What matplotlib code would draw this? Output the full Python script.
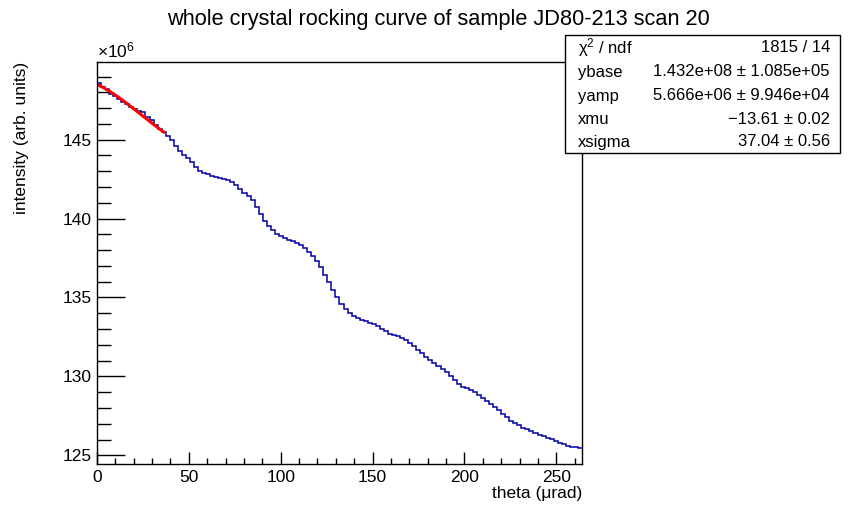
import numpy as np
import matplotlib.pyplot as plt
from matplotlib.patches import Rectangle

plt.rcParams['font.family'] = ['Liberation Sans', 'DejaVu Sans']
plt.rcParams['mathtext.fontset'] = 'custom'
plt.rcParams['mathtext.rm'] = 'Liberation Sans'
plt.rcParams['mathtext.it'] = 'Liberation Sans:italic'

# histogram: 120 bins from 0 to 264 urad, contents in units of 1e6
theta_lo, theta_hi, n_bins = 0.0, 264.0, 120
counts = [
    148.60, 148.35, 148.20, 147.90, 147.75, 147.55, 147.40, 147.25, 147.05, 146.95,
    146.80, 146.75, 146.45, 146.25, 145.95, 145.65, 145.50, 145.25, 144.95, 144.60,
    144.30, 144.05, 143.85, 143.60, 143.25, 143.00, 142.90, 142.80, 142.70, 142.65,
    142.60, 142.50, 142.45, 142.30, 142.10, 141.85, 141.60, 141.40, 141.15, 140.75,
    140.30, 139.85, 139.55, 139.30, 139.05, 138.90, 138.80, 138.65, 138.55, 138.45,
    138.30, 138.15, 137.90, 137.65, 137.30, 136.90, 136.40, 135.95, 135.45, 135.00,
    134.60, 134.25, 134.00, 133.85, 133.70, 133.60, 133.50, 133.40, 133.35, 133.20,
    133.00, 132.85, 132.70, 132.60, 132.55, 132.45, 132.30, 132.10, 131.90, 131.70,
    131.50, 131.25, 131.05, 130.85, 130.65, 130.45, 130.25, 130.05, 129.80, 129.55,
    129.35, 129.25, 129.15, 129.00, 128.85, 128.65, 128.45, 128.25, 128.05, 127.85,
    127.60, 127.40, 127.20, 127.05, 126.90, 126.75, 126.65, 126.55, 126.40, 126.30,
    126.20, 126.10, 126.05, 125.90, 125.80, 125.70, 125.60, 125.55, 125.50, 125.45,
]

# fit results (gaussian + constant), fitted over 0..36 urad
ybase, yamp, xmu, xsigma = 1.432e8, 5.666e6, -13.61, 37.04
fit_lo, fit_hi = 0.0, 36.3
stat_names = ['\u03c7$^{2}$ / ndf', 'ybase', 'yamp', 'xmu', 'xsigma']
stat_vals = ['1815 / 14', '1.432e+08 ± 1.085e+05', '5.666e+06 ± 9.946e+04',
             '\u221213.61 ± 0.02', '37.04 ± 0.56']

W, H = 862, 516
fig = plt.figure(figsize=(W / 100, H / 100), dpi=100)
fx0, fx1, fy0, fy1 = 97, 582, 62, 464
ax = fig.add_axes([fx0 / W, 1 - fy1 / H, (fx1 - fx0) / W, (fy1 - fy0) / H])

edges = np.linspace(theta_lo, theta_hi, n_bins + 1)
ax.stairs(counts, edges, baseline=None, color='#0000a8', lw=1.1)

xf = np.linspace(fit_lo, fit_hi, 200)
yf = (ybase + yamp * np.exp(-0.5 * ((xf - xmu) / xsigma) ** 2)) / 1e6
ax.plot(xf, yf, color='red', lw=2.2)

ax.set_xlim(theta_lo, theta_hi)
ax.set_ylim(124.45, 149.92)
ax.set_xticks(np.arange(0, 251, 50))
ax.set_xticks(np.arange(0, 264, 10), minor=True)
ax.set_yticks(np.arange(125, 146, 5))
ax.set_yticks(np.arange(125, 150, 1), minor=True)
ax.tick_params(which='both', direction='in', top=False, right=False,
               labelsize=12.5, width=1)
ax.tick_params(axis='y', which='major', length=20, pad=4)
ax.tick_params(axis='y', which='minor', length=10)
ax.tick_params(axis='x', which='major', length=9, pad=4)
ax.tick_params(axis='x', which='minor', length=4.5)
for s in ax.spines.values():
    s.set_linewidth(1)

ax.set_xlabel('theta (\u03bcrad)', fontsize=12.5, loc='right', labelpad=1)
ax.set_ylabel('intensity (arb. units)', fontsize=12.5, loc='top', labelpad=24)
ax.text(0.0, 1.005, r'$\times10^{6}$', transform=ax.transAxes,
        fontsize=12.5, ha='left', va='bottom')

fig.text(438 / W, 1 - 20 / H,
         'whole crystal rocking curve of sample JD80-213 scan 20',
         fontsize=15.7, ha='center', va='center')

# stats box
bx0, bx1, by0, by1 = 565, 840, 35, 153
fig.patches.append(Rectangle((bx0 / W, 1 - by1 / H), (bx1 - bx0) / W,
                             (by1 - by0) / H, transform=fig.transFigure,
                             facecolor='white', edgecolor='black', lw=1,
                             zorder=5))
row_y = [48, 72, 96, 119, 142]
for name, val, yy in zip(stat_names, stat_vals, row_y):
    fig.text(578 / W, 1 - yy / H, name, fontsize=12, ha='left',
             va='center', zorder=6)
    fig.text(830 / W, 1 - yy / H, val, fontsize=12, ha='right',
             va='center', zorder=6)

fig.savefig('out.png', dpi=100)
